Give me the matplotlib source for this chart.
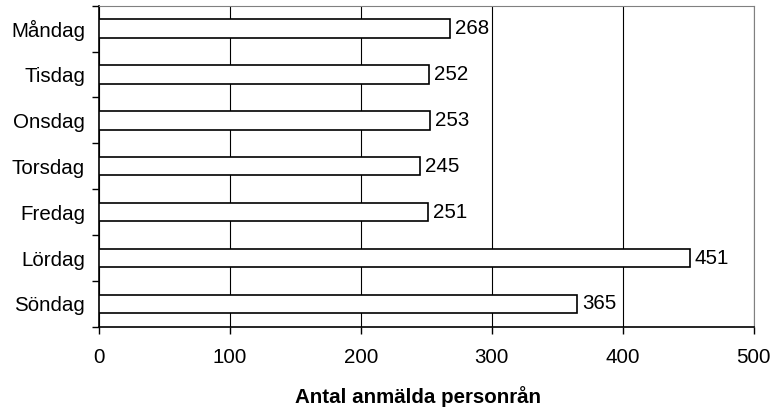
import numpy as np
import matplotlib.pyplot as plt

plt.rcParams['font.family'] = ['Liberation Sans', 'DejaVu Sans']

days = ['Måndag', 'Tisdag', 'Onsdag', 'Torsdag', 'Fredag', 'Lördag', 'Söndag']
counts = [268, 252, 253, 245, 251, 451, 365]

fig = plt.figure(figsize=(7.73, 4.08), dpi=100)
ax = fig.add_axes([0.128, 0.199, 0.847, 0.787])

y = np.arange(len(days))
ax.barh(y, counts, height=0.4, color='white', edgecolor='black', linewidth=1.2, zorder=3)

for yi, v in zip(y, counts):
    ax.text(v + 4, yi, str(v), va='center', ha='left', fontsize=14.8, zorder=4)

ax.set_xlim(0, 500)
ax.set_ylim(len(days) - 0.5, -0.5)
ax.set_xticks(np.arange(0, 501, 100))
ax.set_xticklabels([str(t) for t in range(0, 501, 100)], fontsize=14.8)
ax.set_yticks(y)
ax.set_yticklabels(days, fontsize=14.8)
ax.tick_params(axis='y', length=0, pad=10)
ax.set_yticks(np.arange(-0.5, len(days) + 0.5, 1), minor=True)
ax.tick_params(axis='y', which='minor', length=5, width=1, direction='out')
ax.tick_params(axis='x', length=5, width=1, direction='out', pad=10)

ax.grid(axis='x', color='black', linewidth=0.8, zorder=0)
ax.set_axisbelow(True)

ax.spines['left'].set_linewidth(1.2)
ax.spines['bottom'].set_linewidth(1.2)
ax.spines['top'].set_color('#808080')
ax.spines['right'].set_color('#808080')
ax.spines['top'].set_linewidth(0.8)
ax.spines['right'].set_linewidth(0.8)

ax.set_xlabel('Antal anmälda personrån', fontsize=14.8, fontweight='bold')
ax.xaxis.set_label_coords(0.488, -0.185)

fig.savefig('out.png', dpi=100)
